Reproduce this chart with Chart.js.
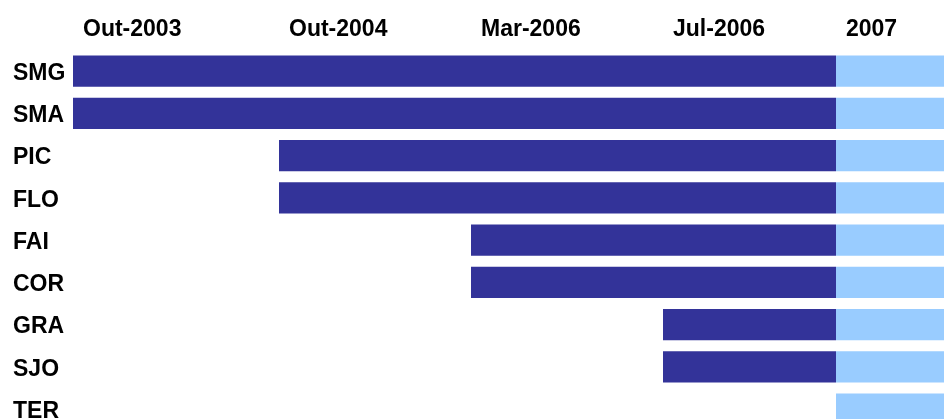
<!DOCTYPE html>
<html>
<head>
<meta charset="utf-8">
<script src="https://cdn.jsdelivr.net/npm/chart.js@4"></script>
<style>
    html, body { margin:0; padding:0; background:#fff; overflow:hidden; }
    canvas { display:block; }
</style>
</head>
<body>
<canvas id="phaseChart" width="944" height="447"></canvas>
<script>
// sites, one row each
const sites = ["SMG","SMA","PIC","FLO","FAI","COR","GRA","SJO","TER"];

// timeline columns (start of each column, in timeline units) and their labels
const phaseStarts = [0, 2.06, 3.98, 5.90, 7.63];
const phaseLabels = ["Out-2003","Out-2004","Mar-2006","Jul-2006","2007"];
const timelineEnd = 8.71;

// when each site started (null = not yet), all run until the 2007 column
const startValues = [0, 0, 2.06, 2.06, 3.98, 3.98, 5.90, 5.90, null];
const rolloutStart = [7.63, 7.63, 7.63, 7.63, 7.63, 7.63, 7.63, 7.63, 7.63];

const labelShift = 0.1;
const fontSpec = { family:"Arial, 'Liberation Sans', sans-serif", size:23, weight:"bold" };

const doneBars = sites.map((s, i) => startValues[i] === null ? null : [startValues[i], rolloutStart[i]]);
const plannedBars = sites.map((s, i) => [rolloutStart[i], timelineEnd]);

const ctx = document.getElementById("phaseChart").getContext("2d");
new Chart(ctx,{
    type:"bar",
    data:{
        labels:sites,
        datasets:[{
            label:"Implantado",
            data:doneBars,
            backgroundColor:"#333399",
            borderWidth:0,
            borderSkipped:false
        },{
            label:"2007",
            data:plannedBars,
            backgroundColor:"#99CCFF",
            borderWidth:0,
            borderSkipped:false
        }]
    },
    options:{
        indexAxis:"y",
        responsive:false,
        animation:false,
        devicePixelRatio:1,
        grouped:false,
        categoryPercentage:1,
        barPercentage:0.74,
        layout:{ padding:{ left:13, top:0, right:0, bottom:0 } },
        scales:{
            x:{
                type:"linear",
                position:"top",
                min:0,
                max:timelineEnd,
                grid:{ display:false, drawTicks:false },
                border:{ display:false },
                afterBuildTicks:(scale) => {
                    scale.ticks = phaseStarts.map((v) => ({ value:v + labelShift }));
                },
                afterFit:(scale) => { scale.height = 50; },
                ticks:{
                    align:"start",
                    padding:7,
                    color:"#000",
                    font:fontSpec,
                    maxRotation:0,
                    autoSkip:false,
                    callback:(v, i) => phaseLabels[i]
                }
            },
            y:{
                grid:{ display:false, drawTicks:false },
                border:{ display:false },
                afterFit:(scale) => { scale.width = 60; },
                ticks:{
                    crossAlign:"far",
                    labelOffset:2.5,
                    color:"#000",
                    font:fontSpec
                }
            }
        },
        plugins:{
            legend:{ display:false },
            tooltip:{ enabled:false }
        }
    }
});
</script>
</body>
</html>
